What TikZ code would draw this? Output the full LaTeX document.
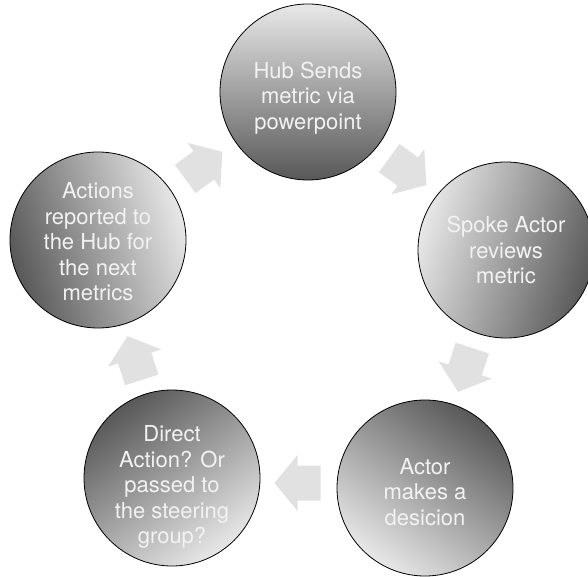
\documentclass[tikz,border=0pt]{standalone}
\usepackage{fontspec}
\setmainfont{TeX Gyre Heros}
\usetikzlibrary{calc}
\definecolor{circlight}{RGB}{232,232,232}
\definecolor{circdark}{RGB}{88,88,88}
\definecolor{arrowgray}{RGB}{225,225,225}
\definecolor{textwhite}{RGB}{242,242,242}
\tikzset{
  stage/.style={circle, draw=black, line width=0.8pt, minimum size=176pt, inner sep=0pt,
    top color=circlight, bottom color=circdark, shading angle=#1},
  stagetext/.style={align=center, text=textwhite, inner sep=0pt, font=\fontsize{22}{25.5}\selectfont},
  flowarrow/.style={fill=arrowgray, draw=none}
}
\newcommand{\cyclearrow}[3]{%
  \begin{scope}[shift={($(#1)!0.5!(#2)$)}, rotate=#3]
    \fill[flowarrow] (-22,-17.5) -- (1,-17.5) -- (1,-28) -- (24,0) -- (1,28) -- (1,17.5) -- (-22,17.5) -- cycle;
  \end{scope}}
\begin{document}
\begin{tikzpicture}[x=1pt,y=1pt]
  \useasboundingbox (0,0) rectangle (588,576);
  \node[stage=0]    (T)  at (308,484) {};
  \node[stage=72]   (R)  at (506,326) {};
  \node[stage=144]  (BR) at (425,88)  {};
  \node[stage=-144] (BL) at (172,98)  {};
  \node[stage=-72]  (L)  at (98,336)  {};
  \node[stagetext] (Tt)  at ($(T)+(0,-6)$)  {Hub Sends\\metric via\\powerpoint};
  \node[stagetext] (Rt)  at ($(R)+(0,0)$)   {Spoke Actor\\reviews\\metric};
  \node[stagetext] (BRt) at ($(BR)+(0,-4)$) {Actor\\makes a\\desicion};
  \node[stagetext] (BLt) at ($(BL)+(0,-9)$) {Direct\\Action? Or\\passed to\\the steering\\group?};
  \node[stagetext] (Lt)  at ($(L)+(0,-2)$)  {Actions\\reported to\\the Hub for\\the next\\metrics};
  \cyclearrow{T}{R}{-36}
  \cyclearrow{R}{BR}{-108}
  \cyclearrow{BR}{BL}{180}
  \cyclearrow{BL}{L}{108}
  \cyclearrow{L}{T}{36}
\end{tikzpicture}
\end{document}
